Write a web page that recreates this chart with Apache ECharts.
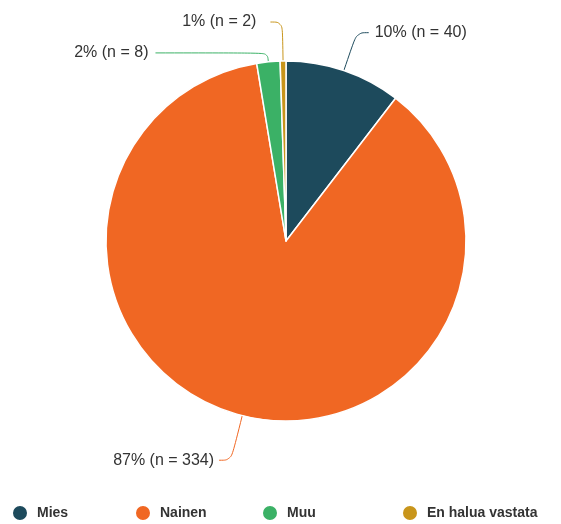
<!DOCTYPE html>
<html><head><meta charset="utf-8">
<script src="https://cdn.jsdelivr.net/npm/echarts@6/dist/echarts.min.js"></script>
<style>html,body{margin:0;padding:0;background:#fff}#c{width:561px;height:524px}</style>
</head><body><div id="c"></div>
<script>
const categories = ['Mies', 'Nainen', 'Muu', 'En halua vastata'];
const counts = [40, 334, 8, 2];
const colors = ['#1d4a5c', '#f06723', '#3bb166', '#c8951b'];
// label line shaping per slice [length, length2, distance]
const lineShape = [[40, 12, 6], [46, 12, 5], [9, 112, 7], [39, 12, 14]];
const legendLeft = [6, 129, 256, 396];

const total = counts.reduce((a, b) => a + b, 0);
const chart = echarts.init(document.getElementById('c'));
const data = categories.map((name, i) => ({
  name, value: counts[i],
  itemStyle: { color: colors[i] },
  label: { distanceToLabelLine: lineShape[i][2] },
  labelLine: { length: lineShape[i][0], length2: lineShape[i][1], lineStyle: { color: colors[i] } }
}));
chart.setOption({
  animation: false,
  legend: categories.map((name, i) => ({
    data: [name], left: legendLeft[i], top: 499, icon: 'circle',
    itemWidth: 16, itemHeight: 16, itemGap: 0,
    textStyle: { fontFamily: 'Liberation Sans, Arial', fontSize: 14, fontWeight: 'bold', color: '#333', padding: [0, 0, 0, 4] }
  })),
  series: [{
    type: 'pie', center: [286, 241], radius: 180, startAngle: 90, clockwise: true,
    avoidLabelOverlap: false,
    itemStyle: { borderColor: '#fff', borderWidth: 1.5 },
    label: {
      fontFamily: 'Liberation Sans, Arial', fontSize: 16, color: '#333',
      formatter: p => Math.round(p.value / total * 100) + '% (n = ' + p.value + ')'
    },
    labelLine: { smooth: 0.4, lineStyle: { width: 1 } },
    data
  }]
});
</script></body></html>
